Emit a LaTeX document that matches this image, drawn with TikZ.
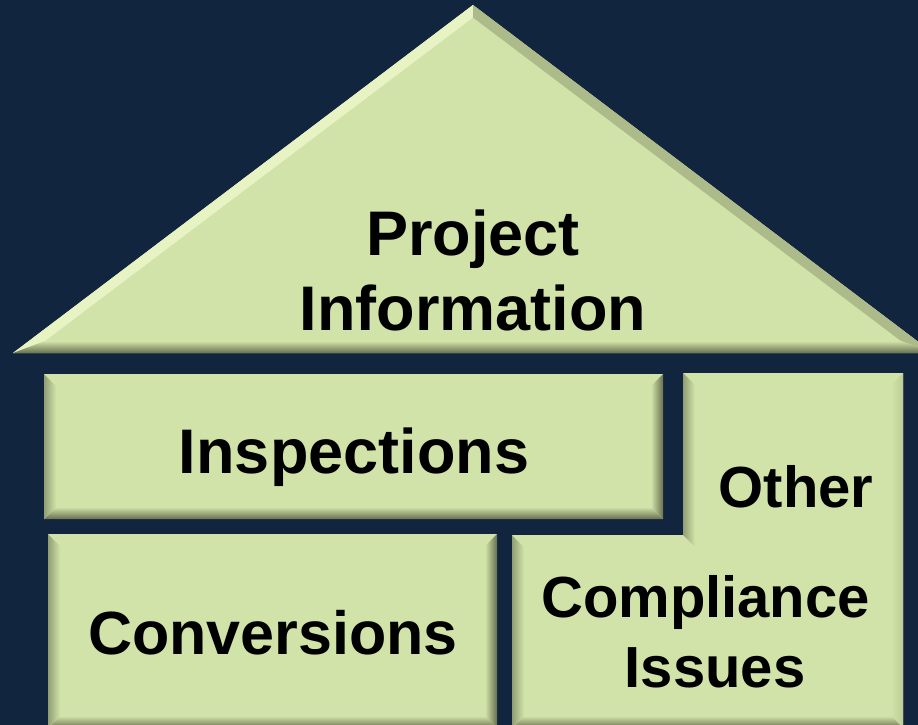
\documentclass[tikz,border=0pt]{standalone}
\usepackage{fontspec}
\setmainfont{Liberation Sans}
\usetikzlibrary{positioning}
\definecolor{navy}{RGB}{18,37,63}
\definecolor{pale}{RGB}{209,227,168}
\definecolor{hilite}{RGB}{248,255,216}
\definecolor{lowlite}{RGB}{104,112,80}

\begin{document}
\begin{tikzpicture}[x=1pt,y=-1pt,
	bigtext/.style={font=\fontsize{63}{75}\selectfont\bfseries,align=center,inner sep=0pt},
	midtext/.style={font=\fontsize{58}{70}\selectfont\bfseries,align=center,inner sep=0pt,anchor=base},
	face/.style={fill=pale},
	edgetop/.style={top color=pale,middle color=hilite,bottom color=pale},
	edgebot/.style={top color=pale,bottom color=lowlite},
	edgeleft/.style={left color=lowlite!60!pale,right color=pale},
	edgeright/.style={left color=pale,right color=lowlite},
	edgerightlit/.style={left color=pale,middle color=hilite,right color=pale!80!lowlite}
	]
	\clip (0,0) rectangle (918,725);
	\fill [navy] (0,0) rectangle (918,725);

	% roof
	\fill [face] (13,353) -- (473,5) -- (933,353) -- cycle;
	\fill [hilite!55!pale] (13,353) -- (473,5) -- (473,17.5) -- (45,341) -- cycle;
	\fill [lowlite!35!pale] (473,5) -- (933,353) -- (901,341) -- (473,17.5) -- cycle;
	\shade [edgebot] (13,353) -- (933,353) -- (901,341) -- (45,341) -- cycle;

	% inspections
	\fill [face] (44,374) rectangle (663,519);
	\shade [edgetop] (44,374) -- (663,374) -- (651,386) -- (56,386) -- cycle;
	\shade [edgebot] (44,519) -- (663,519) -- (651,507) -- (56,507) -- cycle;
	\shade [edgeleft] (44,374) -- (56,386) -- (56,507) -- (44,519) -- cycle;
	\shade [edgeright] (663,374) -- (651,386) -- (651,507) -- (663,519) -- cycle;

	% conversions
	\fill [face] (48,534) rectangle (497,728);
	\shade [edgetop] (48,534) -- (497,534) -- (485,546) -- (60,546) -- cycle;
	\shade [edgebot] (48,728) -- (497,728) -- (485,716) -- (60,716) -- cycle;
	\shade [edgeleft] (48,534) -- (60,546) -- (60,716) -- (48,728) -- cycle;
	\shade [edgeright] (497,534) -- (485,546) -- (485,716) -- (497,728) -- cycle;

	% other / compliance
	\fill [face] (683,373) -- (903,373) -- (903,728) -- (512,728) -- (512,535) -- (683,535) -- cycle;
	\shade [edgetop] (683,373) -- (903,373) -- (891,385) -- (695,385) -- cycle;
	\shade [edgerightlit] (903,373) -- (903,728) -- (891,716) -- (891,385) -- cycle;
	\shade [edgebot] (903,728) -- (512,728) -- (524,716) -- (891,716) -- cycle;
	\shade [edgeleft] (512,728) -- (512,535) -- (524,547) -- (524,716) -- cycle;
	\shade [edgetop] (512,535) -- (683,535) -- (695,547) -- (524,547) -- cycle;
	\shade [edgeleft] (683,535) -- (683,373) -- (695,385) -- (695,547) -- cycle;

	\node [bigtext] (project) at (473,270) {Project\\Information};
	\node [bigtext,anchor=base] (inspections) at (354,473) {Inspections};
	\node [bigtext,font=\fontsize{61}{70}\selectfont\bfseries,anchor=base] (conversions) at (273,654) {Conversions};
	\node [midtext] (other) at (796,507) {Other};
	\node [midtext] (compliance) at (705.5,617) {Compliance};
	\node [midtext] (issues) at (715,687) {Issues};
\end{tikzpicture}
\end{document}
